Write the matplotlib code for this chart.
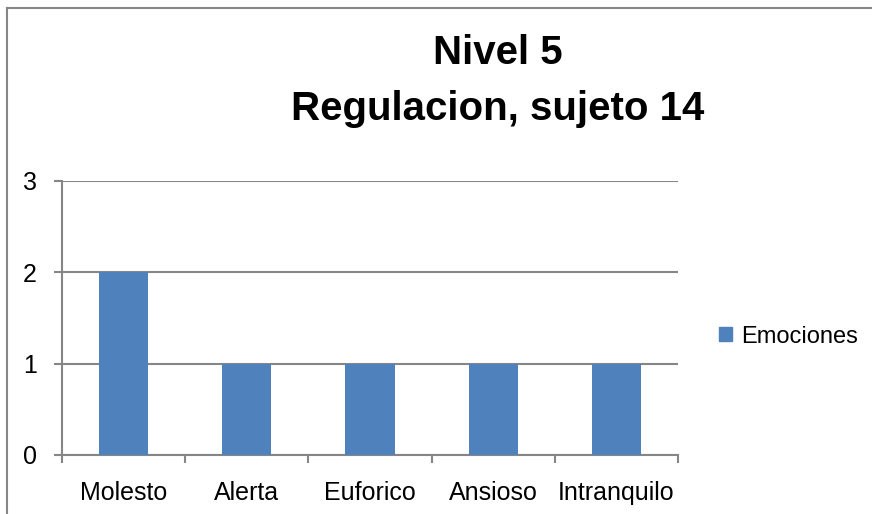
import matplotlib.pyplot as plt
from matplotlib.lines import Line2D
from matplotlib.patches import Patch

categories = ['Molesto', 'Alerta', 'Euforico', 'Ansioso', 'Intranquilo']
values = [2, 1, 1, 1, 1]
series_name = 'Emociones'
title_lines = ['Nivel 5', 'Regulacion, sujeto 14']
yticks = [0, 1, 2, 3]

plt.rcParams['font.family'] = ['Liberation Sans', 'DejaVu Sans']
GRAY = '#868686'
BLUE = '#4F81BD'

fig = plt.figure(figsize=(8.72, 5.14), dpi=100)
ax = fig.add_axes([0.0711, 0.1148, 0.7064, 0.5331])

x = list(range(len(categories)))
ax.bar(x, values, width=0.4, color=BLUE, zorder=3)

ax.set_xlim(-0.5, len(categories) - 0.5)
ax.set_ylim(0, 3)
ax.set_yticks(yticks)
ax.set_yticklabels([str(v) for v in yticks], fontsize=18)
ax.set_xticks(x)
ax.set_xticklabels(categories, fontsize=18)
ax.set_xticks([i - 0.5 for i in range(len(categories) + 1)], minor=True)
ax.tick_params(axis='x', which='major', length=0, pad=19)
ax.tick_params(axis='x', which='minor', length=6, width=1.5, color=GRAY, direction='out')
ax.tick_params(axis='y', length=6, width=1.5, color=GRAY, pad=12)

ax.grid(axis='y', color=GRAY, linewidth=1.5, zorder=0)
for s in ['top', 'right']:
    ax.spines[s].set_visible(False)
for s in ['left', 'bottom']:
    ax.spines[s].set_color(GRAY)
    ax.spines[s].set_linewidth(1.5)

fig.text(0.571, 0.897, title_lines[0], fontsize=29, fontweight='bold', ha='center', va='center')
fig.text(0.571, 0.788, title_lines[1], fontsize=29, fontweight='bold', ha='center', va='center')

fig.legend(handles=[Patch(color=BLUE, label=series_name)], loc='center left',
           bbox_to_anchor=(0.800, 0.345), frameon=False, fontsize=17,
           handlelength=0.55, handleheight=0.55, handletextpad=0.4)

# chart frame (top and left edges visible)
fig.add_artist(Line2D([0.0075, 1.0], [0.9835, 0.9835], color=GRAY, lw=1.5, transform=fig.transFigure))
fig.add_artist(Line2D([0.0075, 0.0075], [0.0, 0.9835], color=GRAY, lw=1.5, transform=fig.transFigure))

fig.savefig('out.png', dpi=100, facecolor='white')
